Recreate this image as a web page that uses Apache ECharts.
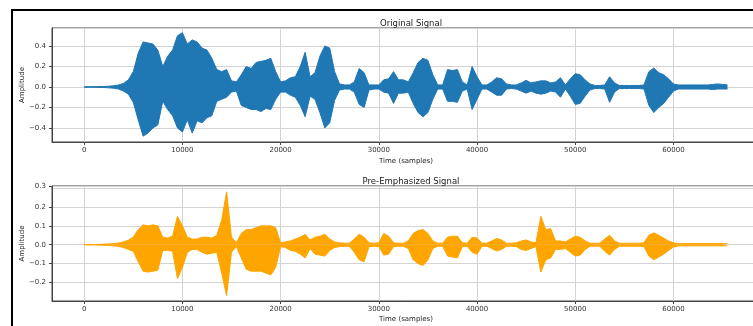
<!DOCTYPE html>
<html>
<head>
<meta charset="utf-8">
<script src="https://cdn.jsdelivr.net/npm/echarts@6/dist/echarts.min.js"></script>
<style>
  html, body { margin: 0; padding: 0; background: #fff; }
  #chart { width: 753px; height: 326px; }
</style>
</head>
<body>
<div id="chart"></div>
<script>
// sample index of each envelope reading (every 500 samples)
const samples = [
  0, 500, 1000, 1500, 2000, 2500, 3000, 3500, 4000, 4500,
  5000, 5500, 6000, 6500, 7000, 7500, 8000, 8500, 9000, 9500,
  10000, 10500, 11000, 11500, 12000, 12500, 13000, 13500, 14000, 14500,
  15000, 15500, 16000, 16500, 17000, 17500, 18000, 18500, 19000, 19500,
  20000, 20500, 21000, 21500, 22000, 22500, 23000, 23500, 24000, 24500,
  25000, 25500, 26000, 26500, 27000, 27500, 28000, 28500, 29000, 29500,
  30000, 30500, 31000, 31500, 32000, 32500, 33000, 33500, 34000, 34500,
  35000, 35500, 36000, 36500, 37000, 37500, 38000, 38500, 39000, 39500,
  40000, 40500, 41000, 41500, 42000, 42500, 43000, 43500, 44000, 44500,
  45000, 45500, 46000, 46500, 47000, 47500, 48000, 48500, 49000, 49500,
  50000, 50500, 51000, 51500, 52000, 52500, 53000, 53500, 54000, 54500,
  55000, 55500, 56000, 56500, 57000, 57500, 58000, 58500, 59000, 59500,
  60000, 60500, 61000, 61500, 62000, 62500, 63000, 63500, 64000, 64500,
  65000, 65500
];

// original signal: upper / lower envelope
const originalUpper = [
  .003, .003, .003, .004, .005, .008, .012, .02, .035, .07,
  .15, .33, .44, .43, .42, .36, .20, .30, .36, .50,
  .53, .42, .46, .44, .38, .36, .28, .17, .15, .17,
  .06, .05, .12, .20, .18, .24, .25, .26, .28, .15,
  .05, .06, .09, .10, .20, .34, .10, .14, .30, .40,
  .38, .15, .03, .02, .02, .05, .18, .14, .02, .02,
  .02, .07, .08, .15, .07, .07, .05, .14, .24, .28,
  .26, .12, .02, .02, .17, .16, .17, .05, .02, .20,
  .10, .02, .02, .05, .09, .08, .03, .02, .02, .04,
  .065, .04, .05, .06, .06, .04, .05, .09, .02, .08,
  .13, .12, .07, .03, .015, .015, .02, .10, .04, .015,
  .015, .015, .015, .015, .02, .15, .185, .14, .12, .08,
  .03, .02, .02, .02, .02, .02, .02, .02, .025, .03,
  .025, .02
];
const originalLower = [
  -.003, -.003, -.003, -.004, -.005, -.008, -.012, -.02, -.04, -.07,
  -.15, -.32, -.48, -.45, -.40, -.37, -.14, -.22, -.28, -.40,
  -.44, -.32, -.45, -.33, -.35, -.30, -.28, -.14, -.12, -.10,
  -.05, -.04, -.18, -.20, -.22, -.22, -.24, -.21, -.22, -.12,
  -.05, -.05, -.08, -.10, -.18, -.29, -.09, -.12, -.25, -.40,
  -.35, -.13, -.03, -.02, -.02, -.05, -.17, -.20, -.03, -.02,
  -.02, -.05, -.06, -.16, -.06, -.06, -.05, -.16, -.25, -.29,
  -.25, -.12, -.02, -.02, -.14, -.14, -.15, -.04, -.02, -.22,
  -.12, -.02, -.02, -.05, -.08, -.08, -.02, -.015, -.02, -.04,
  -.06, -.04, -.06, -.07, -.06, -.04, -.05, -.10, -.02, -.09,
  -.17, -.16, -.09, -.03, -.015, -.015, -.02, -.15, -.05, -.015,
  -.015, -.015, -.015, -.015, -.02, -.18, -.25, -.20, -.16, -.10,
  -.04, -.02, -.02, -.02, -.02, -.02, -.02, -.02, -.025, -.02,
  -.02, -.02
];

// pre-emphasized signal: upper / lower envelope
const emphUpper = [
  .001, .001, .001, .002, .003, .004, .006, .009, .015, .025,
  .04, .08, .105, .10, .105, .10, .04, .035, .045, .15,
  .10, .04, .03, .03, .04, .04, .035, .05, .13, .28,
  .04, .01, .06, .08, .08, .09, .10, .10, .10, .09,
  .01, .015, .02, .03, .04, .055, .025, .04, .045, .055,
  .03, .015, .01, .008, .008, .03, .055, .04, .01, .008,
  .01, .06, .045, .01, .008, .008, .02, .06, .075, .08,
  .06, .02, .008, .008, .04, .045, .045, .01, .008, .04,
  .035, .008, .008, .02, .033, .025, .008, .008, .01, .02,
  .025, .015, .01, .15, .08, .085, .02, .02, .015, .03,
  .045, .04, .02, .008, .008, .008, .03, .05, .02, .008,
  .008, .008, .008, .008, .01, .05, .063, .05, .035, .02,
  .01, .006, .006, .006, .006, .006, .006, .006, .006, .006,
  .006, .006
];
const emphLower = [
  -.001, -.001, -.001, -.002, -.003, -.004, -.006, -.009, -.015, -.025,
  -.035, -.09, -.14, -.145, -.14, -.135, -.03, -.03, -.035, -.18,
  -.12, -.04, -.025, -.025, -.04, -.05, -.045, -.04, -.15, -.27,
  -.04, -.01, -.07, -.13, -.14, -.14, -.14, -.15, -.16, -.12,
  -.01, -.015, -.03, -.035, -.05, -.07, -.02, -.05, -.055, -.06,
  -.03, -.015, -.01, -.008, -.008, -.04, -.08, -.09, -.01, -.008,
  -.01, -.055, -.05, -.01, -.008, -.008, -.02, -.08, -.10, -.11,
  -.08, -.02, -.008, -.008, -.06, -.065, -.07, -.01, -.008, -.04,
  -.05, -.008, -.008, -.02, -.033, -.025, -.008, -.008, -.01, -.025,
  -.03, -.02, -.01, -.145, -.08, -.07, -.025, -.025, -.02, -.04,
  -.06, -.055, -.025, -.008, -.008, -.008, -.035, -.055, -.025, -.008,
  -.008, -.008, -.008, -.008, -.01, -.06, -.08, -.065, -.05, -.03,
  -.012, -.006, -.006, -.006, -.006, -.006, -.006, -.006, -.006, -.006,
  -.006, -.006
];

const titles = ['Original Signal', 'Pre-Emphasized Signal'];
const colors = ['#1f77b4', '#ffa500'];

const FONT = 'DejaVu Sans';
const pairs = vals => samples.map((s, i) => [s, vals[i]]);

const fmtY = v => {
  const t = Math.abs(v).toFixed(1);
  return v < -1e-9 ? '\u2212' + t : t;
};
const fmtX = v => (Math.abs(v % 10000) < 1e-6 ? String(v) : '');

const grids = [
  { left: 52, top: 28, width: 708, height: 114 },
  { left: 52, top: 186, width: 708, height: 115 },
];
const yRanges = [[-0.537, 0.576, 5], [-0.298, 0.311, 6]];

const xAxis = grids.map((g, i) => ({
  type: 'value',
  gridIndex: i,
  min: -3277,
  max: 68813,
  splitNumber: 7,
  name: 'Time (samples)',
  nameLocation: 'middle',
  nameMoveOverlap: false,
  nameGap: i === 0 ? 16 : 15,
  nameTextStyle: { fontFamily: FONT, fontSize: 7, color: '#222' },
  axisLine: { show: true, onZero: false, lineStyle: { color: '#444', width: 1 } },
  axisTick: { show: true, length: 3, lineStyle: { color: '#444' } },
  axisLabel: {
    fontFamily: FONT, fontSize: 7, color: '#333', margin: 5,
    showMinLabel: false, showMaxLabel: false, formatter: fmtX,
  },
  splitLine: { show: true, lineStyle: { color: '#d3d3d3', width: 1 } },
}));

const yAxis = grids.map((g, i) => ({
  type: 'value',
  gridIndex: i,
  min: yRanges[i][0],
  max: yRanges[i][1],
  splitNumber: yRanges[i][2],
  name: 'Amplitude',
  nameLocation: 'middle',
  nameMoveOverlap: false,
  nameGap: 26,
  nameTextStyle: { fontFamily: FONT, fontSize: 7, color: '#222' },
  axisLine: { show: true, onZero: false, lineStyle: { color: '#444', width: 1 } },
  axisTick: { show: true, length: 3, lineStyle: { color: '#444' } },
  axisLabel: {
    fontFamily: FONT, fontSize: 7, color: '#333', margin: 6,
    showMinLabel: false, showMaxLabel: i === 1, formatter: fmtY,
  },
  splitLine: { show: true, lineStyle: { color: '#d3d3d3', width: 1 } },
}));

const band = (idx, vals) => ({
  type: 'line',
  xAxisIndex: idx,
  yAxisIndex: idx,
  data: pairs(vals),
  showSymbol: false,
  sampling: 'none',
  lineStyle: { color: colors[idx], width: 1 },
  areaStyle: { color: colors[idx], opacity: 1 },
  z: 3,
});

const chart = echarts.init(document.getElementById('chart'), null, { renderer: 'canvas' });
chart.setOption({
  animation: false,
  backgroundColor: '#fff',
  title: titles.map((t, i) => ({
    text: t,
    left: 406,
    top: i === 0 ? 14 : 172,
    textAlign: 'center',
    textStyle: { fontFamily: FONT, fontSize: 8.5, fontWeight: 'normal', color: '#222' },
  })),
  grid: grids.map(g => ({
    ...g, outerBoundsMode: 'none', containLabel: false,
    show: true, borderColor: '#444', borderWidth: 1, backgroundColor: 'transparent',
  })),
  xAxis,
  yAxis,
  series: [
    band(0, originalUpper),
    band(0, originalLower),
    band(1, emphUpper),
    band(1, emphLower),
  ],
  graphic: [{
    type: 'rect',
    shape: { x: 12, y: 10, width: 760, height: 340 },
    style: { fill: 'none', stroke: '#000', lineWidth: 2 },
    silent: true,
    z: 100,
  }],
});
</script>
</body>
</html>
